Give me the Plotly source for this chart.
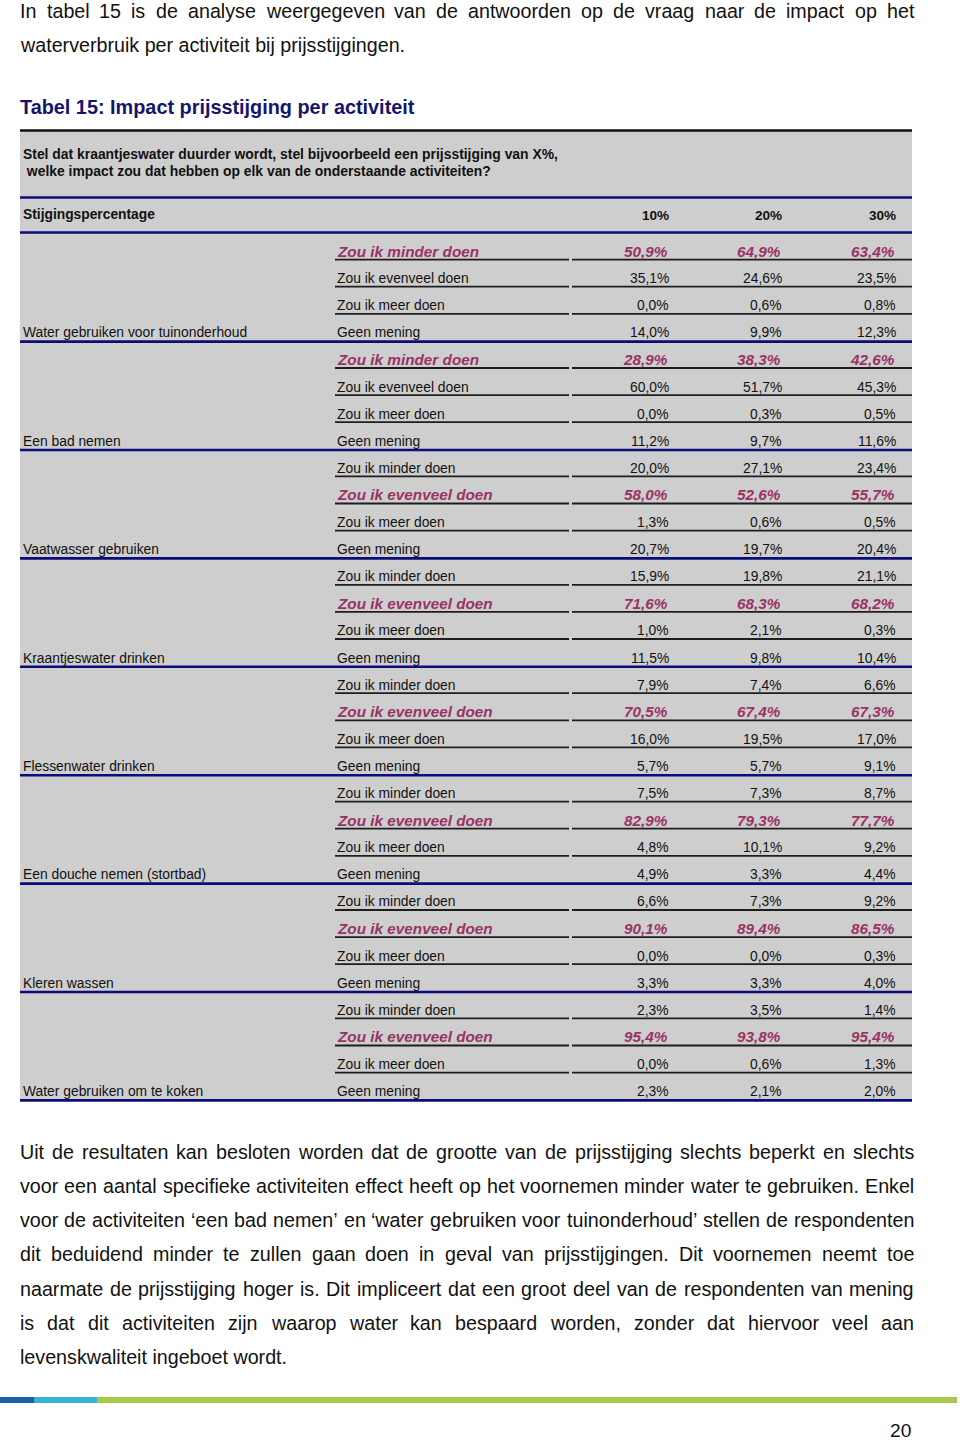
import plotly.graph_objects as go

# ---------------- data ----------------
intro_lines = [
    "In tabel 15 is de analyse weergegeven van de antwoorden op de vraag naar de impact op het",
    "waterverbruik per activiteit bij prijsstijgingen.",
]
table_title = "Tabel 15: Impact prijsstijging per activiteit"
question_lines = [
    "Stel dat kraantjeswater duurder wordt, stel bijvoorbeeld een prijsstijging van X%,",
    " welke impact zou dat hebben op elk van de onderstaande activiteiten?",
]
header_label = "Stijgingspercentage"
price_increases = ["10%", "20%", "30%"]
activities = [
    "Water gebruiken voor tuinonderhoud",
    "Een bad nemen",
    "Vaatwasser gebruiken",
    "Kraantjeswater drinken",
    "Flessenwater drinken",
    "Een douche nemen (stortbad)",
    "Kleren wassen",
    "Water gebruiken om te koken",
]
responses = ["Zou ik minder doen", "Zou ik evenveel doen", "Zou ik meer doen", "Geen mening"]
# per activity: [minder, evenveel, meer, geen mening]
values_10 = [
    [50.9, 35.1, 0.0, 14.0],
    [28.9, 60.0, 0.0, 11.2],
    [20.0, 58.0, 1.3, 20.7],
    [15.9, 71.6, 1.0, 11.5],
    [7.9, 70.5, 16.0, 5.7],
    [7.5, 82.9, 4.8, 4.9],
    [6.6, 90.1, 0.0, 3.3],
    [2.3, 95.4, 0.0, 2.3],
]
values_20 = [
    [64.9, 24.6, 0.6, 9.9],
    [38.3, 51.7, 0.3, 9.7],
    [27.1, 52.6, 0.6, 19.7],
    [19.8, 68.3, 2.1, 9.8],
    [7.4, 67.4, 19.5, 5.7],
    [7.3, 79.3, 10.1, 3.3],
    [7.3, 89.4, 0.0, 3.3],
    [3.5, 93.8, 0.6, 2.1],
]
values_30 = [
    [63.4, 23.5, 0.8, 12.3],
    [42.6, 45.3, 0.5, 11.6],
    [23.4, 55.7, 0.5, 20.4],
    [21.1, 68.2, 0.3, 10.4],
    [6.6, 67.3, 17.0, 9.1],
    [8.7, 77.7, 9.2, 4.4],
    [9.2, 86.5, 0.3, 4.0],
    [1.4, 95.4, 1.3, 2.0],
]
highlight_row = [0, 0, 1, 1, 1, 1, 1, 1]
conclusion_lines = [
    "Uit de resultaten kan besloten worden dat de grootte van de prijsstijging slechts beperkt en slechts",
    "voor een aantal specifieke activiteiten effect heeft op het voornemen minder water te gebruiken. Enkel",
    "voor de activiteiten \u2018een bad nemen\u2019 en \u2018water gebruiken voor tuinonderhoud\u2019 stellen de respondenten",
    "dit beduidend minder te zullen gaan doen in geval van prijsstijgingen. Dit voornemen neemt toe",
    "naarmate de prijsstijging hoger is. Dit impliceert dat een groot deel van de respondenten van mening",
    "is dat dit activiteiten zijn waarop water kan bespaard worden, zonder dat hiervoor veel aan",
    "levenskwaliteit ingeboet wordt.",
]
page_number = "20"

# ---------------- styling ----------------
FONT = "Liberation Sans, Arial, sans-serif"
TEXT = "#111111"
NAVY = "#0c0c78"
TITLE_C = "#15156e"
HILITE = "#993366"
GRAY = "#cecece"
PAGE_W, PAGE_H = 960, 1442

ARIAL = {' ': 278, '!': 278, '"': 355, '%': 889, "'": 191, '(': 333, ')': 333, ',': 278,
         '-': 333, '.': 278, ':': 278, '?': 556, '\u2018': 222, '\u2019': 222}
for c in '0123456789':
    ARIAL[c] = 556
ARIAL.update(dict(A=667, B=667, C=722, D=722, E=667, F=611, G=778, H=722, I=278, J=500, K=667,
                  L=556, M=833, N=722, O=778, P=667, Q=778, R=722, S=667, T=611, U=722, V=667,
                  W=944, X=667, Y=667, Z=611))
ARIAL.update(dict(a=556, b=556, c=500, d=556, e=556, f=278, g=556, h=556, i=222, j=222, k=500,
                  l=222, m=833, n=556, o=556, p=556, q=556, r=333, s=500, t=278, u=556, v=500,
                  w=722, x=500, y=500, z=500))


def tw(s, size):
    return sum(ARIAL.get(c, 556) for c in s) * size / 1000.0


annotations = []
shapes = []


def add_text(x, y, s, size, color=TEXT, anchor="left", weight="normal", style="normal",
             vanchor="middle"):
    annotations.append(dict(
        x=x, y=y, xref="x", yref="y", text=s, showarrow=False, xanchor=anchor,
        yanchor=vanchor, borderpad=0,
        font=dict(family=FONT, size=size, color=color, weight=weight, style=style)))


def add_paragraph(lines, y0, pitch, left, right, size):
    for i, line in enumerate(lines):
        y = y0 + pitch * i
        if i == len(lines) - 1:
            add_text(left, y, line, size)
            continue
        words = line.split(" ")
        widths = [tw(wd, size) for wd in words]
        gap = (right - left - sum(widths)) / (len(words) - 1)
        x = left
        for wd, wdw in zip(words, widths):
            add_text(x, y, wd, size)
            x += wdw + gap


def hline(y, x0, x1, color, width):
    shapes.append(dict(type="line", xref="x", yref="y", x0=x0, x1=x1, y0=y, y1=y,
                       line=dict(color=color, width=width)))


BODY = 19.7
add_paragraph(intro_lines, 11, 34.2, 19, 913, BODY)
add_text(19, 107, table_title, 19.85, color=TITLE_C, weight="bold")

# table frame
TL, TR = 20, 912
ROW0, PITCH = 251, 27.1
last_center = ROW0 + PITCH * (len(activities) * len(responses) - 1)
shapes.append(dict(type="rect", xref="x", yref="y", x0=TL, x1=TR, y0=130, y1=last_center + 10,
                   fillcolor=GRAY, line=dict(width=0), layer="below"))
hline(130.5, TL, TR, "#111111", 2.5)
for i, q in enumerate(question_lines):
    add_text(22, 154 + 17 * i, q, 13.9, weight="bold")
hline(197.5, TL, TR, NAVY, 2.6)
add_text(22, 214, header_label, 13.8, weight="bold")
COLX = [670, 783, 897]
for cx, lab in zip(COLX, price_increases):
    add_text(cx, 215, lab, 13.6, anchor="right", weight="bold")
hline(232.5, TL, TR, NAVY, 2.6)

cols = [values_10, values_20, values_30]
for g, act in enumerate(activities):
    for r, resp in enumerate(responses):
        k = g * len(responses) + r
        y = ROW0 + PITCH * k
        hl = (r == highlight_row[g])
        if hl:
            add_text(336, y, resp, 15.3, color=HILITE, weight="bold", style="italic")
        else:
            add_text(336, y, resp, 13.85)
        for cx, col in zip(COLX, cols):
            s = ("%.1f%%" % col[g][r]).replace(".", ",")
            if hl:
                add_text(cx - 1, y, s, 15.3, color=HILITE, anchor="right", weight="bold", style="italic")
            else:
                add_text(cx, y, s, 13.85, anchor="right")
        if r < len(responses) - 1:
            hline(y + 8.6, 335, 569, "#1e1e1e", 1.8)
            hline(y + 8.6, 572, TR, "#1e1e1e", 1.8)
        else:
            add_text(22, y, act, 13.85)
            hline(y + 9.3, TL, TR, NAVY, 2.6)

add_paragraph(conclusion_lines, 1152, 34.15, 19, 913, BODY)

# footer bar
for x0, x1, c in [(0, 34, "#1b5ea6"), (34, 97, "#36b3dc"), (97, 957, "#a9c74a")]:
    shapes.append(dict(type="rect", xref="x", yref="y", x0=x0, x1=x1, y0=1397, y1=1403,
                       fillcolor=c, line=dict(width=0)))
add_text(912, 1441.5, page_number, 19.2, anchor="right", vanchor="bottom")

fig = go.Figure()
fig.update_layout(
    width=PAGE_W, height=PAGE_H, margin=dict(l=0, r=0, t=0, b=0),
    paper_bgcolor="white", plot_bgcolor="white", showlegend=False,
    xaxis=dict(range=[0, PAGE_W], visible=False, fixedrange=True),
    yaxis=dict(range=[PAGE_H, 0], visible=False, fixedrange=True),
    annotations=annotations, shapes=shapes,
)
fig.write_html(
    "out.html",
    config={"displayModeBar": False},
    post_script="document.body.style.margin='0';document.body.style.overflow='hidden';",
)
